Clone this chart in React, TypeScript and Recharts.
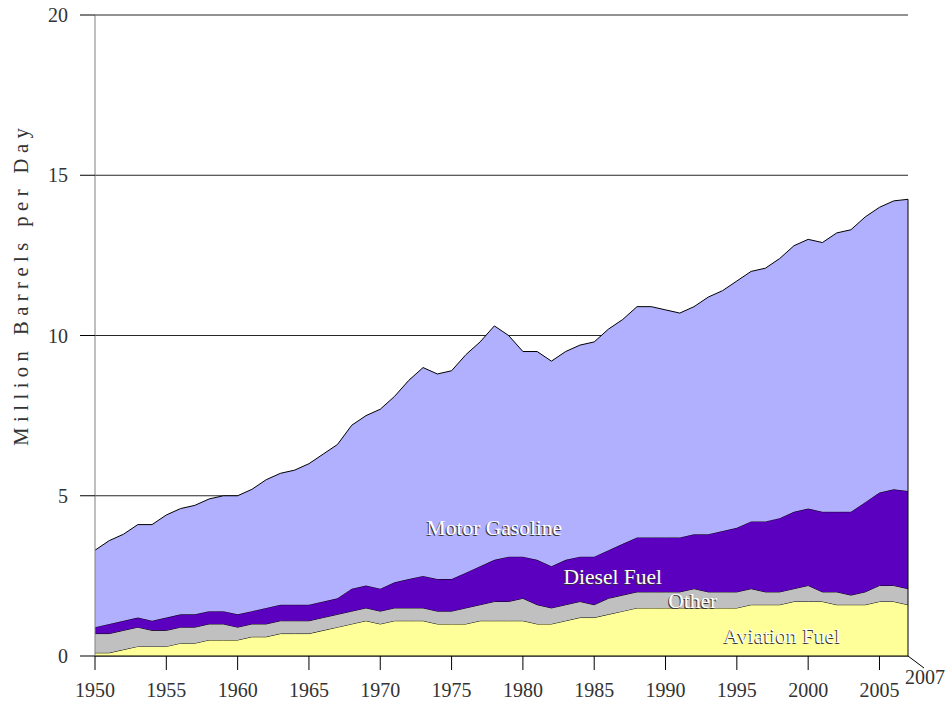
import React from 'react';
import { AreaChart, Area, XAxis, YAxis, CartesianGrid, ReferenceLine, ReferenceDot } from 'recharts';

const years = [
  1950, 1951, 1952, 1953, 1954, 1955, 1956, 1957, 1958, 1959,
  1960, 1961, 1962, 1963, 1964, 1965, 1966, 1967, 1968, 1969,
  1970, 1971, 1972, 1973, 1974, 1975, 1976, 1977, 1978, 1979,
  1980, 1981, 1982, 1983, 1984, 1985, 1986, 1987, 1988, 1989,
  1990, 1991, 1992, 1993, 1994, 1995, 1996, 1997, 1998, 1999,
  2000, 2001, 2002, 2003, 2004, 2005, 2006, 2007,
];

// million barrels per day, stacked bottom to top
const aviationFuel = [
  0.1, 0.1, 0.2, 0.3, 0.3, 0.3, 0.4, 0.4, 0.5, 0.5,
  0.5, 0.6, 0.6, 0.7, 0.7, 0.7, 0.8, 0.9, 1.0, 1.1,
  1.0, 1.1, 1.1, 1.1, 1.0, 1.0, 1.0, 1.1, 1.1, 1.1,
  1.1, 1.0, 1.0, 1.1, 1.2, 1.2, 1.3, 1.4, 1.5, 1.5,
  1.5, 1.5, 1.5, 1.5, 1.5, 1.5, 1.6, 1.6, 1.6, 1.7,
  1.7, 1.7, 1.6, 1.6, 1.6, 1.7, 1.7, 1.6,
];

const other = [
  0.6, 0.6, 0.6, 0.6, 0.5, 0.5, 0.5, 0.5, 0.5, 0.5,
  0.4, 0.4, 0.4, 0.4, 0.4, 0.4, 0.4, 0.4, 0.4, 0.4,
  0.4, 0.4, 0.4, 0.4, 0.4, 0.4, 0.5, 0.5, 0.6, 0.6,
  0.7, 0.6, 0.5, 0.5, 0.5, 0.4, 0.5, 0.5, 0.5, 0.5,
  0.5, 0.5, 0.6, 0.5, 0.5, 0.5, 0.5, 0.4, 0.4, 0.4,
  0.5, 0.3, 0.4, 0.3, 0.4, 0.5, 0.5, 0.5,
];

const dieselFuel = [
  0.2, 0.3, 0.3, 0.3, 0.3, 0.4, 0.4, 0.4, 0.4, 0.4,
  0.4, 0.4, 0.5, 0.5, 0.5, 0.5, 0.5, 0.5, 0.7, 0.7,
  0.7, 0.8, 0.9, 1.0, 1.0, 1.0, 1.1, 1.2, 1.3, 1.4,
  1.3, 1.4, 1.3, 1.4, 1.4, 1.5, 1.5, 1.6, 1.7, 1.7,
  1.7, 1.7, 1.7, 1.8, 1.9, 2.0, 2.1, 2.2, 2.3, 2.4,
  2.4, 2.5, 2.5, 2.6, 2.8, 2.9, 3.0, 3.05,
];

const motorGasoline = [
  2.4, 2.6, 2.7, 2.9, 3.0, 3.2, 3.3, 3.4, 3.5, 3.6,
  3.7, 3.8, 4.0, 4.1, 4.2, 4.4, 4.6, 4.8, 5.1, 5.3,
  5.6, 5.8, 6.2, 6.5, 6.4, 6.5, 6.8, 7.0, 7.3, 6.9,
  6.4, 6.5, 6.4, 6.5, 6.6, 6.7, 6.9, 7.0, 7.2, 7.2,
  7.1, 7.0, 7.1, 7.4, 7.5, 7.7, 7.8, 7.9, 8.1, 8.3,
  8.4, 8.4, 8.7, 8.8, 8.9, 8.9, 9.0, 9.1,
];

const xTicks = [1950, 1955, 1960, 1965, 1970, 1975, 1980, 1985, 1990, 1995, 2000, 2005, 2007];
const yTicks = [0, 5, 10, 15, 20];

// where the series names sit inside their bands (year, value)
const seriesLabels = [
  { text: 'Motor Gasoline', year: 1978, value: 4.0 },
  { text: 'Diesel Fuel', year: 1986.3, value: 2.45 },
  { text: 'Other', year: 1991.9, value: 1.72 },
  { text: 'Aviation Fuel', year: 1998.2, value: 0.62 },
];

const data = years.map((year, i) => ({
  year,
  aviation: aviationFuel[i],
  other: other[i],
  diesel: dieselFuel[i],
  gasoline: motorGasoline[i],
}));

const lastTotal =
  aviationFuel[years.length - 1] + other[years.length - 1] +
  dieselFuel[years.length - 1] + motorGasoline[years.length - 1];

const FONT = '"Liberation Serif", "Times New Roman", serif';
const TEXT = '#333';

const YearTick = ({ x, y, payload }: any) => {
  if (payload.value === 2007) {
    return (
      <g>
        <line x1={x} y1={y} x2={x + 16} y2={y + 12} stroke="#000" />
        <text x={x - 3} y={y + 28} fontFamily={FONT} fontSize={20} fill={TEXT}>
          {payload.value}
        </text>
      </g>
    );
  }
  return (
    <g>
      <line x1={x} y1={y} x2={x} y2={y + 14} stroke="#000" />
      <text x={x} y={y + 41} textAnchor="middle" fontFamily={FONT} fontSize={20} fill={TEXT}>
        {payload.value}
      </text>
    </g>
  );
};

const SeriesName = ({ viewBox, value }: any) => {
  const cx = viewBox.x + (viewBox.width || 0) / 2;
  const cy = viewBox.y + (viewBox.height || 0) / 2 + 7;
  return (
    <g fontFamily={FONT} fontSize={21.5} textAnchor="middle">
      <text x={cx - 1} y={cy + 1} fill="#333">{value}</text>
      <text x={cx} y={cy} fill="#fff">{value}</text>
    </g>
  );
};

const AxisTitle = ({ viewBox }: any) => {
  const x = viewBox.x + 28;
  const y = viewBox.y + viewBox.height * 0.42;
  return (
    <text
      x={x}
      y={y}
      transform={`rotate(-90 ${x} ${y})`}
      textAnchor="middle"
      fontFamily={FONT}
      fontSize={20.5}
      letterSpacing={5.5}
      fill={TEXT}
    >
      Million Barrels per Day
    </text>
  );
};

export default function App() {
  return (
    <div style={{ position: 'absolute', left: 0, top: 0, background: '#fff' }}>
      <AreaChart width={948} height={704} data={data} margin={{ top: 15, right: 40, bottom: 0, left: 0 }}>
        <CartesianGrid horizontal vertical={false} stroke="#000" strokeOpacity={0.85} />
        <XAxis
          dataKey="year"
          type="number"
          domain={[1950, 2007]}
          ticks={xTicks}
          interval={0}
          height={48}
          tickSize={0}
          tickMargin={0}
          tick={<YearTick />}
          stroke="#000"
        />
        <YAxis
          type="number"
          domain={[0, 20]}
          ticks={yTicks}
          interval={0}
          width={95}
          tickSize={15}
          tickMargin={12}
          stroke="#808080"
          tickLine={{ stroke: '#000' }}
          tick={{ fontFamily: FONT, fontSize: 20, fill: TEXT }}
          label={{ content: <AxisTitle /> }}
        />
        <Area type="linear" dataKey="aviation" stackId="1" stroke="#000" strokeWidth={1} fill="#FFFF99" fillOpacity={1} isAnimationActive={false} />
        <Area type="linear" dataKey="other" stackId="1" stroke="#000" strokeWidth={1} fill="#C0C0C0" fillOpacity={1} isAnimationActive={false} />
        <Area type="linear" dataKey="diesel" stackId="1" stroke="#000" strokeWidth={1} fill="#5B00BF" fillOpacity={1} isAnimationActive={false} />
        <Area type="linear" dataKey="gasoline" stackId="1" stroke="#000" strokeWidth={1} fill="#B0B0FF" fillOpacity={1} isAnimationActive={false} />
        <ReferenceLine segment={[{ x: 2007, y: 0 }, { x: 2007, y: lastTotal }]} stroke="#000" />
        {seriesLabels.map((l) => (
          <ReferenceDot
            key={l.text}
            x={l.year}
            y={l.value}
            r={0}
            fill="none"
            stroke="none"
            label={<SeriesName value={l.text} />}
          />
        ))}
      </AreaChart>
    </div>
  );
}
